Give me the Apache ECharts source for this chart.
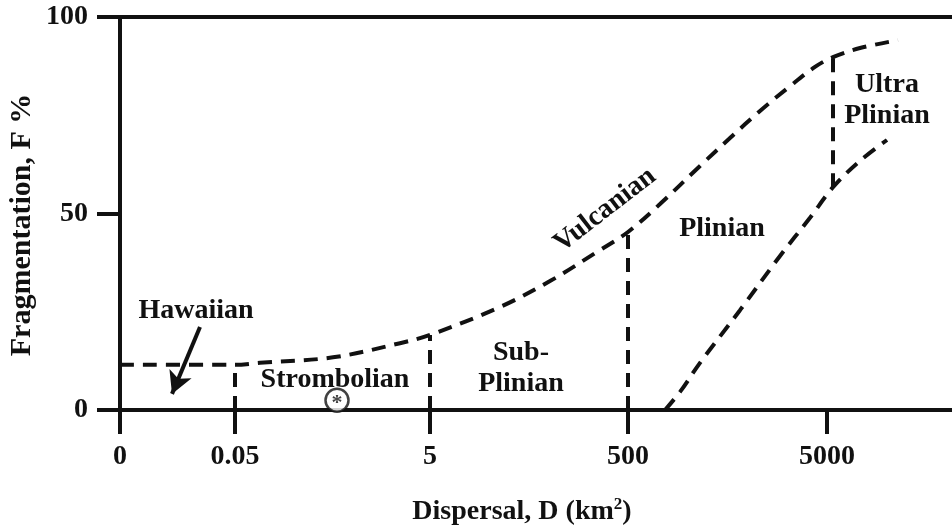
<!DOCTYPE html>
<html>
<head>
<meta charset="utf-8">
<script src="https://cdn.jsdelivr.net/npm/echarts@6/dist/echarts.min.js"></script>
<style>html,body{margin:0;padding:0;background:#fff}#c{width:952px;height:531px}</style>
</head>
<body>
<div id="c"></div>
<script>
// Schematic x-axis: positions along the axis and the labels shown there
const tickPositions = [0, 1.15, 3.10, 5.08, 7.07];
const tickLabels = ['0', '0.05', '5', '500', '5000'];
const yTicks = [0, 50, 100];

// Upper boundary curve (Fragmentation % vs schematic dispersal position)
const upperCurve = [[0, 11.5], [1.15, 11.5], [1.40, 12.0], [2.13, 13.4], [2.80, 17.0], [3.10, 19.1],
  [3.80, 26.2], [4.30, 32.8], [4.80, 40.7], [5.08, 45.3], [5.40, 52.4], [5.80, 62.1],
  [6.10, 69.2], [6.40, 76.1], [6.70, 82.4], [6.95, 87.3], [7.13, 89.8], [7.40, 92.1], [7.78, 94.1]];
// Lower (Plinian / Ultra Plinian) boundary curve
const lowerCurve = [[5.45, 0], [5.60, 4.6], [5.80, 12.0], [6.20, 25.4], [6.60, 39.2], [6.90, 48.9],
  [7.13, 56.7], [7.40, 63.4], [7.67, 68.7]];
// Vertical dashed dividers: [x, yFrom, yTo]
const dividers = [[1.15, 0, 11.5], [3.10, 0, 19.1], [5.08, 0, 45.3], [7.13, 56.7, 89.8]];
// Region labels: [x, y, text, rotation]
const regionLabels = [
  [0.76, 25.2, 'Hawaiian', 0],
  [2.15, 7.6, 'Strombolian', 0],
  [4.01, 10.7, 'Sub-\nPlinian', 0],
  [4.85, 50.9, 'Vulcanian', 37.6],
  [6.02, 46.1, 'Plinian', 0],
  [7.67, 78.9, 'Ultra\nPlinian', 0]
];
const hawaiianArrow = [[0.80, 21.1], [0.52, 4.1]];
const starMarker = [[2.17, 2.5]];

const FONT = '"Liberation Serif", "Times New Roman", serif';
const INK = '#111';
const dash = [14, 9];

const series = [];
series.push({type: 'line', data: upperCurve, smooth: 0.35, showSymbol: false, silent: true,
  lineStyle: {color: INK, width: 4, type: dash}});
series.push({type: 'line', data: lowerCurve, smooth: 0.35, showSymbol: false, silent: true,
  lineStyle: {color: INK, width: 4, type: dash}});
dividers.forEach(d => series.push({type: 'line', data: [[d[0], d[1]], [d[0], d[2]]], showSymbol: false, silent: true,
  lineStyle: {color: INK, width: 4, type: dash}}));
series.push({type: 'scatter', silent: true, symbolSize: 0, itemStyle: {color: INK, opacity: 1},
  data: regionLabels.map(r => ({value: [r[0], r[1]], name: r[2], label: {rotate: r[3]}})),
  label: {show: true, position: 'inside', formatter: p => p.name, color: INK, textBorderWidth: 0,
    fontFamily: FONT, fontWeight: 'bold', fontSize: 28, lineHeight: 31, align: 'center', verticalAlign: 'middle'}});
series.push({type: 'scatter', silent: true, symbol: 'circle', symbolSize: 23,
  itemStyle: {color: '#fff', borderColor: INK, borderWidth: 2.5}, data: starMarker, z: 5,
  label: {show: true, position: 'inside', formatter: '*', color: INK, textBorderWidth: 0, fontFamily: FONT, fontWeight: 'bold',
    fontSize: 22, offset: [0, 3]}});
series.push({type: 'line', data: [], silent: true,
  markLine: {silent: true, symbol: ['none', 'arrow'], symbolSize: [18, 22], animation: false,
    lineStyle: {color: INK, width: 4, type: 'solid'}, label: {show: false},
    data: [[{coord: hawaiianArrow[0]}, {coord: hawaiianArrow[1]}]]}});

const chart = echarts.init(document.getElementById('c'));
chart.setOption({
  animation: false,
  backgroundColor: '#fff',
  grid: {left: 120, right: 0, top: 17, bottom: 121},
  xAxis: [{
    type: 'value', min: 0, max: 8.32, position: 'bottom',
    axisLine: {show: true, onZero: false, lineStyle: {color: INK, width: 4}},
    axisTick: {show: true, length: 24, lineStyle: {color: INK, width: 4}, customValues: tickPositions},
    axisLabel: {show: true, margin: 33, customValues: tickPositions,
      formatter: v => { const i = tickPositions.findIndex(t => Math.abs(t - v) < 1e-6); return i >= 0 ? tickLabels[i] : ''; },
      color: INK, fontFamily: FONT, fontWeight: 'bold', fontSize: 28},
    splitLine: {show: false}
  }, {
    type: 'value', min: 0, max: 8.32, position: 'top',
    axisLine: {show: true, onZero: false, lineStyle: {color: INK, width: 4}},
    axisTick: {show: false}, axisLabel: {show: false}, splitLine: {show: false}
  }],
  yAxis: {
    type: 'value', min: 0, max: 100, interval: 50,
    axisLine: {show: true, onZero: false, lineStyle: {color: INK, width: 4}},
    axisTick: {show: true, length: 23, lineStyle: {color: INK, width: 4}},
    axisLabel: {margin: 32, color: INK, fontFamily: FONT, fontWeight: 'bold', fontSize: 28,
      customValues: yTicks},
    splitLine: {show: false}
  },
  graphic: [
    {type: 'text', x: 522, y: 512, style: {text: '{a|Dispersal, D (km}{s|2}{a|)}', align: 'center', verticalAlign: 'middle',
      rich: {a: {fontFamily: FONT, fontWeight: 'bold', fontSize: 28, fill: INK},
             s: {fontFamily: FONT, fontWeight: 'bold', fontSize: 17, fill: INK, padding: [0, 0, 15, 0]}}}},
    {type: 'text', x: 22, y: 225, rotation: Math.PI / 2,
      style: {text: 'Fragmentation, F %', align: 'center', verticalAlign: 'middle',
        fontFamily: FONT, fontWeight: 'bold', fontSize: 30, fill: INK}}
  ],
  series: series
});
</script>
</body>
</html>
